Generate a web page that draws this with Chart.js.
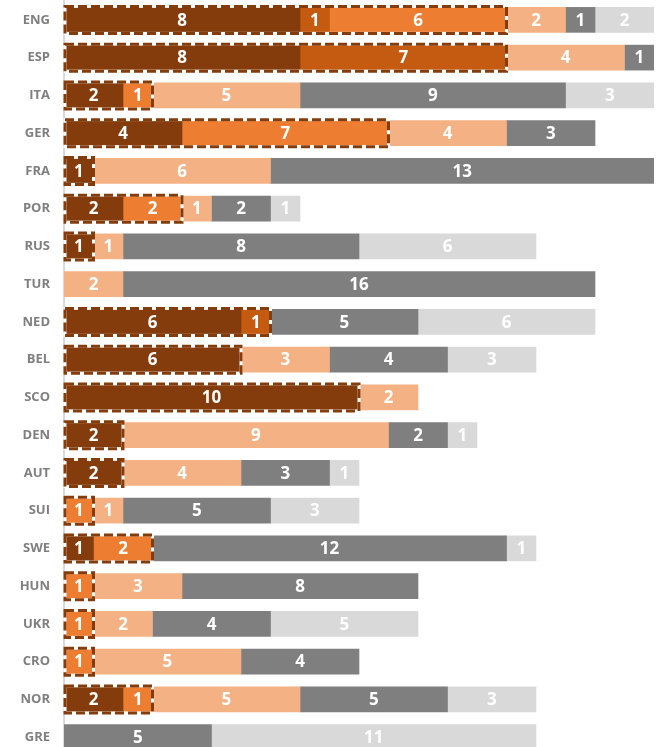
<!DOCTYPE html>
<html>
<head>
<meta charset="utf-8">
<script src="https://cdn.jsdelivr.net/npm/chart.js@4"></script>
<style>
  html, body { margin: 0; padding: 0; background: #fff; overflow: hidden; }
  #wrap { width: 656px; height: 758px; }
</style>
</head>
<body>
<div id="wrap"><canvas id="chart"></canvas></div>
<script>
const countries = ["ENG","ESP","ITA","GER","FRA","POR","RUS","TUR","NED","BEL","SCO","DEN","AUT","SUI","SWE","HUN","UKR","CRO","NOR","GRE"];

const brown      = [8, 8, 2, 4, 1, 2, 1, 0, 6, 6, 10, 2, 2, 0, 1, 0, 0, 0, 2, 0];
const darkOrange = [1, 7, 0, 0, 0, 0, 0, 0, 1, 0, 0, 0, 0, 0, 0, 0, 0, 0, 0, 0];
const orange     = [6, 0, 1, 7, 0, 2, 0, 0, 0, 0, 0, 0, 0, 1, 2, 1, 1, 1, 1, 0];
const peach      = [2, 4, 5, 4, 6, 1, 1, 2, 0, 3, 2, 9, 4, 1, 0, 3, 2, 5, 5, 0];
const darkGray   = [1, 1, 9, 3, 13, 2, 8, 16, 5, 4, 0, 2, 3, 5, 12, 8, 4, 4, 5, 5];
const lightGray  = [2, 0, 3, 0, 0, 1, 6, 0, 6, 3, 0, 1, 1, 3, 1, 0, 5, 0, 3, 11];

const series = [
  { data: brown, color: "#843C0C" },
  { data: darkOrange, color: "#C55A11" },
  { data: orange, color: "#ED7D31" },
  { data: peach, color: "#F4B183" },
  { data: darkGray, color: "#7F7F7F" },
  { data: lightGray, color: "#D9D9D9" }
];

// dashed box around the first three series of each row
const dashedBox = {
  id: "dashedBox",
  afterDatasetsDraw(chart) {
    const ctx = chart.ctx;
    const x = chart.scales.x;
    const y = chart.scales.y;
    countries.forEach((c, i) => {
      const total = brown[i] + darkOrange[i] + orange[i];
      if (!total) return;
      const h = 25;
      const x0 = x.getPixelForValue(0) + 1;
      const x1 = x.getPixelForValue(total);
      const y0 = y.getPixelForValue(i) - h / 2 - 1;
      ctx.save();
      ctx.lineWidth = 3;
      ctx.strokeStyle = "#ffffff";
      ctx.setLineDash([]);
      ctx.strokeRect(x0, y0, x1 - x0, h + 2);
      ctx.strokeStyle = "#843C0C";
      ctx.setLineDash([9, 4]);
      ctx.strokeRect(x0, y0, x1 - x0, h + 2);
      ctx.restore();
    });
  }
};

const valueLabels = {
  id: "valueLabels",
  afterDatasetsDraw(chart) {
    const ctx = chart.ctx;
    ctx.save();
    ctx.fillStyle = "#ffffff";
    ctx.font = "bold 17px 'Open Sans', sans-serif";
    ctx.textAlign = "center";
    ctx.textBaseline = "middle";
    chart.data.datasets.forEach((ds, di) => {
      chart.getDatasetMeta(di).data.forEach((el, i) => {
        const v = ds.data[i];
        if (!v) return;
        const p = el.getCenterPoint();
        ctx.fillText(v, p.x, p.y + 1);
      });
    });
    ctx.restore();
  }
};

new Chart(document.getElementById("chart"), {
  type: "bar",
  data: {
    labels: countries,
    datasets: series.map(s => ({
      data: s.data.map(v => v || null),
      backgroundColor: s.color,
      borderWidth: 0,
      barThickness: 25
    }))
  },
  options: {
    indexAxis: "y",
    responsive: true,
    maintainAspectRatio: false,
    animation: false,
    layout: { padding: { top: 1, right: 2, bottom: 2, left: 0 } },
    plugins: { legend: { display: false }, tooltip: { enabled: false } },
    scales: {
      x: {
        stacked: true,
        min: 0,
        max: 20,
        display: false
      },
      y: {
        stacked: true,
        afterFit(scale) {
          scale.width = 64;
          scale.paddingTop = 0;
          scale.paddingBottom = 0;
        },
        grid: { display: false, drawTicks: false },
        border: { display: true, color: "#D9D9D9", width: 2 },
        ticks: {
          padding: 14,
          color: "#7F7F7F",
          font: { family: "'Open Sans', sans-serif", size: 13, weight: "bold" }
        }
      }
    }
  },
  plugins: [dashedBox, valueLabels]
});
</script>
</body>
</html>
